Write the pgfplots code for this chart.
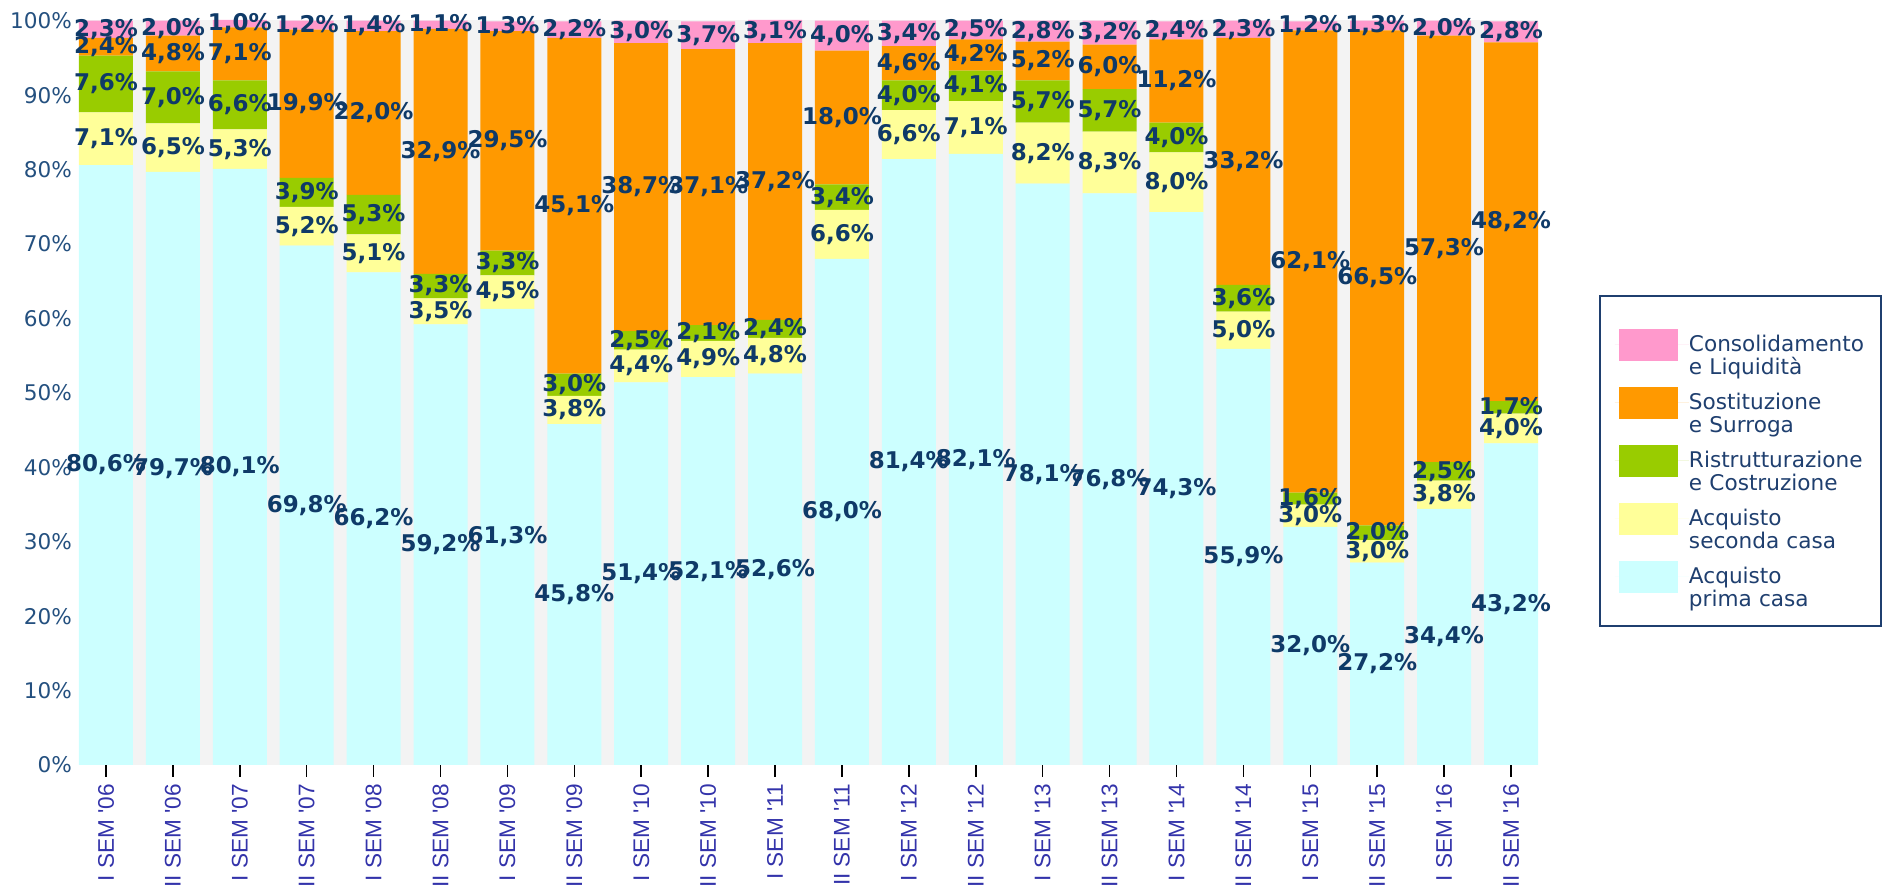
\documentclass[border=0pt]{standalone}
\usepackage{pgfplots}
\pgfplotsset{compat=1.18}
\usepackage{pgfplotstable}
\usepackage{fontspec}
\setmainfont{DejaVu Sans}
\newfontfamily\arialfont{Liberation Sans}

\definecolor{pinkc}{HTML}{FF99CC}
\definecolor{orangec}{HTML}{FF9900}
\definecolor{greenc}{HTML}{99CC00}
\definecolor{yellowc}{HTML}{FFFF99}
\definecolor{cyanc}{HTML}{CCFFFF}
\definecolor{bggray}{HTML}{F3F3F3}
\definecolor{labnavy}{HTML}{0F3A68}
\definecolor{ytext}{HTML}{24507F}
\definecolor{xtext}{HTML}{3333AA}
\definecolor{legborder}{HTML}{1F3F6F}

% legend swatch
\pgfplotsset{sw/.style={legend image code/.code={%
    \path (0pt,0pt) -- (37pt,0pt);
    \fill[#1] (2pt,-8pt) rectangle (31.5pt,8pt);}}}

% a = prima casa, b = seconda casa, c = ristrutturazione,
% d = sostituzione/surroga, e = consolidamento
\pgfplotstableread{
x  a    b   c   d    e
0  80.6 7.1 7.6 2.4  2.3
1  79.7 6.5 7.0 4.8  2.0
2  80.1 5.3 6.6 7.1  1.0
3  69.8 5.2 3.9 19.9 1.2
4  66.2 5.1 5.3 22.0 1.4
5  59.2 3.5 3.3 32.9 1.1
6  61.3 4.5 3.3 29.5 1.3
7  45.8 3.8 3.0 45.1 2.2
8  51.4 4.4 2.5 38.7 3.0
9  52.1 4.9 2.1 37.1 3.7
10 52.6 4.8 2.4 37.2 3.1
11 68.0 6.6 3.4 18.0 4.0
12 81.4 6.6 4.0 4.6  3.4
13 82.1 7.1 4.1 4.2  2.5
14 78.1 8.2 5.7 5.2  2.8
15 76.8 8.3 5.7 6.0  3.2
16 74.3 8.0 4.0 11.2 2.4
17 55.9 5.0 3.6 33.2 2.3
18 32.0 3.0 1.6 62.1 1.2
19 27.2 3.0 2.0 66.5 1.3
20 34.4 3.8 2.5 57.3 2.0
21 43.2 4.0 1.7 48.2 2.8
}\datatable

\begin{document}
\begin{tikzpicture}
\useasboundingbox (-39.5pt,-64pt) rectangle (902pt,382.5pt);
\begin{axis}[
    scale only axis,
    width=729.5pt, height=372.5pt,
    ybar stacked,
    bar width=0.807,
    xmin=-0.4035, xmax=21.4035,
    ymin=0, ymax=100.1,
    clip=false,
    axis background/.style={fill=bggray},
    axis line style={draw=none},
    tick pos=left,
    xtick={0,...,21},
    xticklabels={I SEM \textquotesingle06, II SEM \textquotesingle06, I SEM \textquotesingle07, II SEM \textquotesingle07,
        I SEM \textquotesingle08, II SEM \textquotesingle08, I SEM \textquotesingle09, II SEM \textquotesingle09,
        I SEM \textquotesingle10, II SEM \textquotesingle10, I SEM \textquotesingle11, II SEM \textquotesingle11,
        I SEM \textquotesingle12, II SEM \textquotesingle12, I SEM \textquotesingle13, II SEM \textquotesingle13,
        I SEM \textquotesingle14, II SEM \textquotesingle14, I SEM \textquotesingle15, II SEM \textquotesingle15,
        I SEM \textquotesingle16, II SEM \textquotesingle16},
    xticklabel style={rotate=90, anchor=east, font=\arialfont\fontsize{11.3}{13}\selectfont, text=xtext},
    ytick={0,10,...,100},
    yticklabels={0\%,10\%,20\%,30\%,40\%,50\%,60\%,70\%,80\%,90\%,100\%},
    yticklabel style={font=\fontsize{10.8}{12}\selectfont, text=ytext, xshift=6pt},
    ytick style={draw=none},
    xtick style={draw=black, line width=0.75pt},
    tick align=outside,
    major tick length=6pt,
    visualization depends on={rawy \as \v},
    nodes near coords={\pgfmathprintnumber[fixed,fixed zerofill,precision=1,use comma,assume math mode=true]{\v}\%},
    nodes near coords align=center,
    every node near coord/.append style={anchor=center,
        font=\bfseries\fontsize{11.5}{13}\selectfont, text=labnavy, inner sep=0pt},
    legend cell align=left,
    reverse legend,
    legend style={at={(1.0418,0.6309)}, anchor=north west, draw=legborder, line width=1pt,
        inner xsep=7.5pt, inner ysep=10pt, row sep=0pt,
        nodes={text width=88.5pt, align=left, minimum height=29pt, inner ysep=0pt, inner xsep=0pt,
            font=\fontsize{10.8}{11.5}\selectfont, text=legborder}},
]
\addplot[fill=cyanc, draw=none, sw=cyanc] table[x=x, y=a] {\datatable};
\addlegendentry{Acquisto\\prima casa}
\addplot[fill=yellowc, draw=none, sw=yellowc] table[x=x, y=b] {\datatable};
\addlegendentry{Acquisto\\seconda casa}
\addplot[fill=greenc, draw=none, sw=greenc] table[x=x, y=c] {\datatable};
\addlegendentry{Ristrutturazione\\e Costruzione}
\addplot[fill=orangec, draw=none, sw=orangec] table[x=x, y=d] {\datatable};
\addlegendentry{Sostituzione\\e Surroga}
\addplot[fill=pinkc, draw=none, sw=pinkc] table[x=x, y=e] {\datatable};
\addlegendentry{Consolidamento\\e Liquidità}
\end{axis}
\end{tikzpicture}
\end{document}
